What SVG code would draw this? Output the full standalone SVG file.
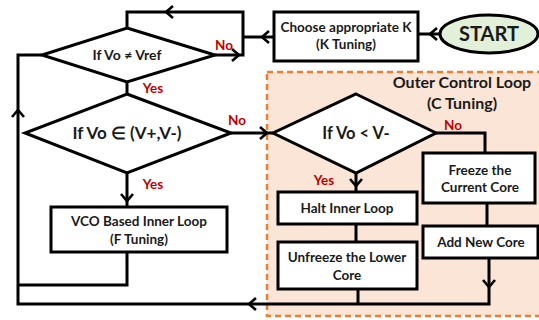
<svg xmlns="http://www.w3.org/2000/svg" width="539" height="320" viewBox="0 0 539 320">
<defs>
<marker id="a" markerUnits="userSpaceOnUse" markerWidth="12" markerHeight="16" refX="8" refY="7" orient="auto" overflow="visible">
<path d="M1,1 L8,7 L1,13" fill="none" stroke="#000" stroke-width="2.6" stroke-linejoin="miter"/>
</marker>
</defs>
<style>
text{font-family:Lato,"Liberation Sans",sans-serif;font-weight:bold;fill:#1a1a1a;text-anchor:middle}
.box{fill:#fff;stroke:#000;stroke-width:3}
.ln{fill:none;stroke:#000;stroke-width:3;stroke-linejoin:miter}
.ar{fill:none;stroke:none}
.lbl{fill:#c00000;font-size:13.5px}
.t{font-size:13.5px}
</style>
<rect id="outer" x="267" y="72" width="290" height="244" fill="#fbe5d6" stroke="#ed7d31" stroke-width="2.5" stroke-dasharray="6,4"/>
<text x="462" y="88" style="font-size:16px">Outer Control Loop</text>
<text x="462" y="109" style="font-size:16px">(C Tuning)</text>
<g id="connectors">
<path class="ln" d="M127,28 V12 H243 V55 H215"/>
<path class="ln" d="M274,37 H243"/>
<path class="ln" d="M440,34 H418"/>
<path class="ln" d="M127,82 V94"/>
<path class="ln" d="M42,55 H18 V304 H489 V258"/>
<path class="ln" d="M231,133 H273"/>
<path class="ln" d="M127,173 V207"/>
<path class="ln" d="M127,252 V285 H18"/>
<path class="ln" d="M436,133 H485 V153"/>
<path class="ln" d="M487,203 V226"/>
<path class="ln" d="M356,173 V192"/>
<path class="ln" d="M356,224 V242"/>
<path class="ln" d="M358,289 V304"/>
<path class="ar" d="M450,34 L430,34" marker-end="url(#a)"/>
<path class="ar" d="M274,37 L262,37" marker-end="url(#a)"/>
<path class="ar" d="M200,12 L166,12" marker-end="url(#a)"/>
<path class="ar" d="M215,55 L239,55" marker-end="url(#a)"/>
<path class="ar" d="M18,140 L18,110" marker-end="url(#a)"/>
<path class="ar" d="M300,304 L249,304" marker-end="url(#a)"/>
<path class="ar" d="M231,133 L267,133" marker-end="url(#a)"/>
<path class="ar" d="M127,173 L127,201" marker-end="url(#a)"/>
<path class="ar" d="M489,258 L489,287" marker-end="url(#a)"/>
<path class="ar" d="M356,173 L356,186" marker-end="url(#a)"/>
<text class="lbl" x="224" y="50">No</text>
<text class="lbl" x="153" y="93">Yes</text>
<text class="lbl" x="237" y="125">No</text>
<text class="lbl" x="153" y="189">Yes</text>
<text class="lbl" x="453" y="130">No</text>
<text class="lbl" x="324" y="185">Yes</text>
</g>
<g id="start">
<ellipse cx="489" cy="34" rx="49" ry="19" fill="#e2efd9" stroke="#000" stroke-width="3"/>
<text x="489" y="41" style="font-size:20px">START</text>
</g>
<g id="choose">
<rect class="box" x="274" y="12" width="144" height="49"/>
<text class="t" x="346" y="32">Choose appropriate K</text>
<text class="t" x="346" y="49">(K Tuning)</text>
</g>
<g id="d1">
<polygon points="127,28 215,55 127,82 42,55" class="box"/>
<text x="127" y="60" style="font-size:14px">If Vo ≠ Vref</text>
</g>
<g id="d2">
<polygon points="127,94 231,133 127,173 25,133" class="box"/>
<text x="127" y="139" style="font-size:17px">If Vo ∈ (V+,V-)</text>
</g>
<g id="vco">
<rect class="box" x="51" y="207" width="176" height="45"/>
<text class="t" x="139" y="226">VCO Based Inner Loop</text>
<text class="t" x="139" y="244">(F Tuning)</text>
</g>
<g id="d3">
<polygon points="356,94 436,133 356,173 273,133" class="box"/>
<text x="356" y="139" style="font-size:16.5px">If Vo &lt; V-</text>
</g>
<g id="freeze">
<rect class="box" x="423" y="153" width="112" height="50"/>
<text class="t" x="480" y="175">Freeze the</text>
<text class="t" x="480" y="192">Current Core</text>
</g>
<g id="addcore">
<rect class="box" x="423" y="226" width="115" height="32"/>
<text class="t" x="481" y="247">Add New Core</text>
</g>
<g id="halt">
<rect class="box" x="278" y="192" width="139" height="32"/>
<text class="t" x="347" y="213">Halt Inner Loop</text>
</g>
<g id="unfreeze">
<rect class="box" x="278" y="242" width="139" height="47"/>
<text class="t" x="347" y="262">Unfreeze the Lower</text>
<text class="t" x="347" y="280">Core</text>
</g>
</svg>
